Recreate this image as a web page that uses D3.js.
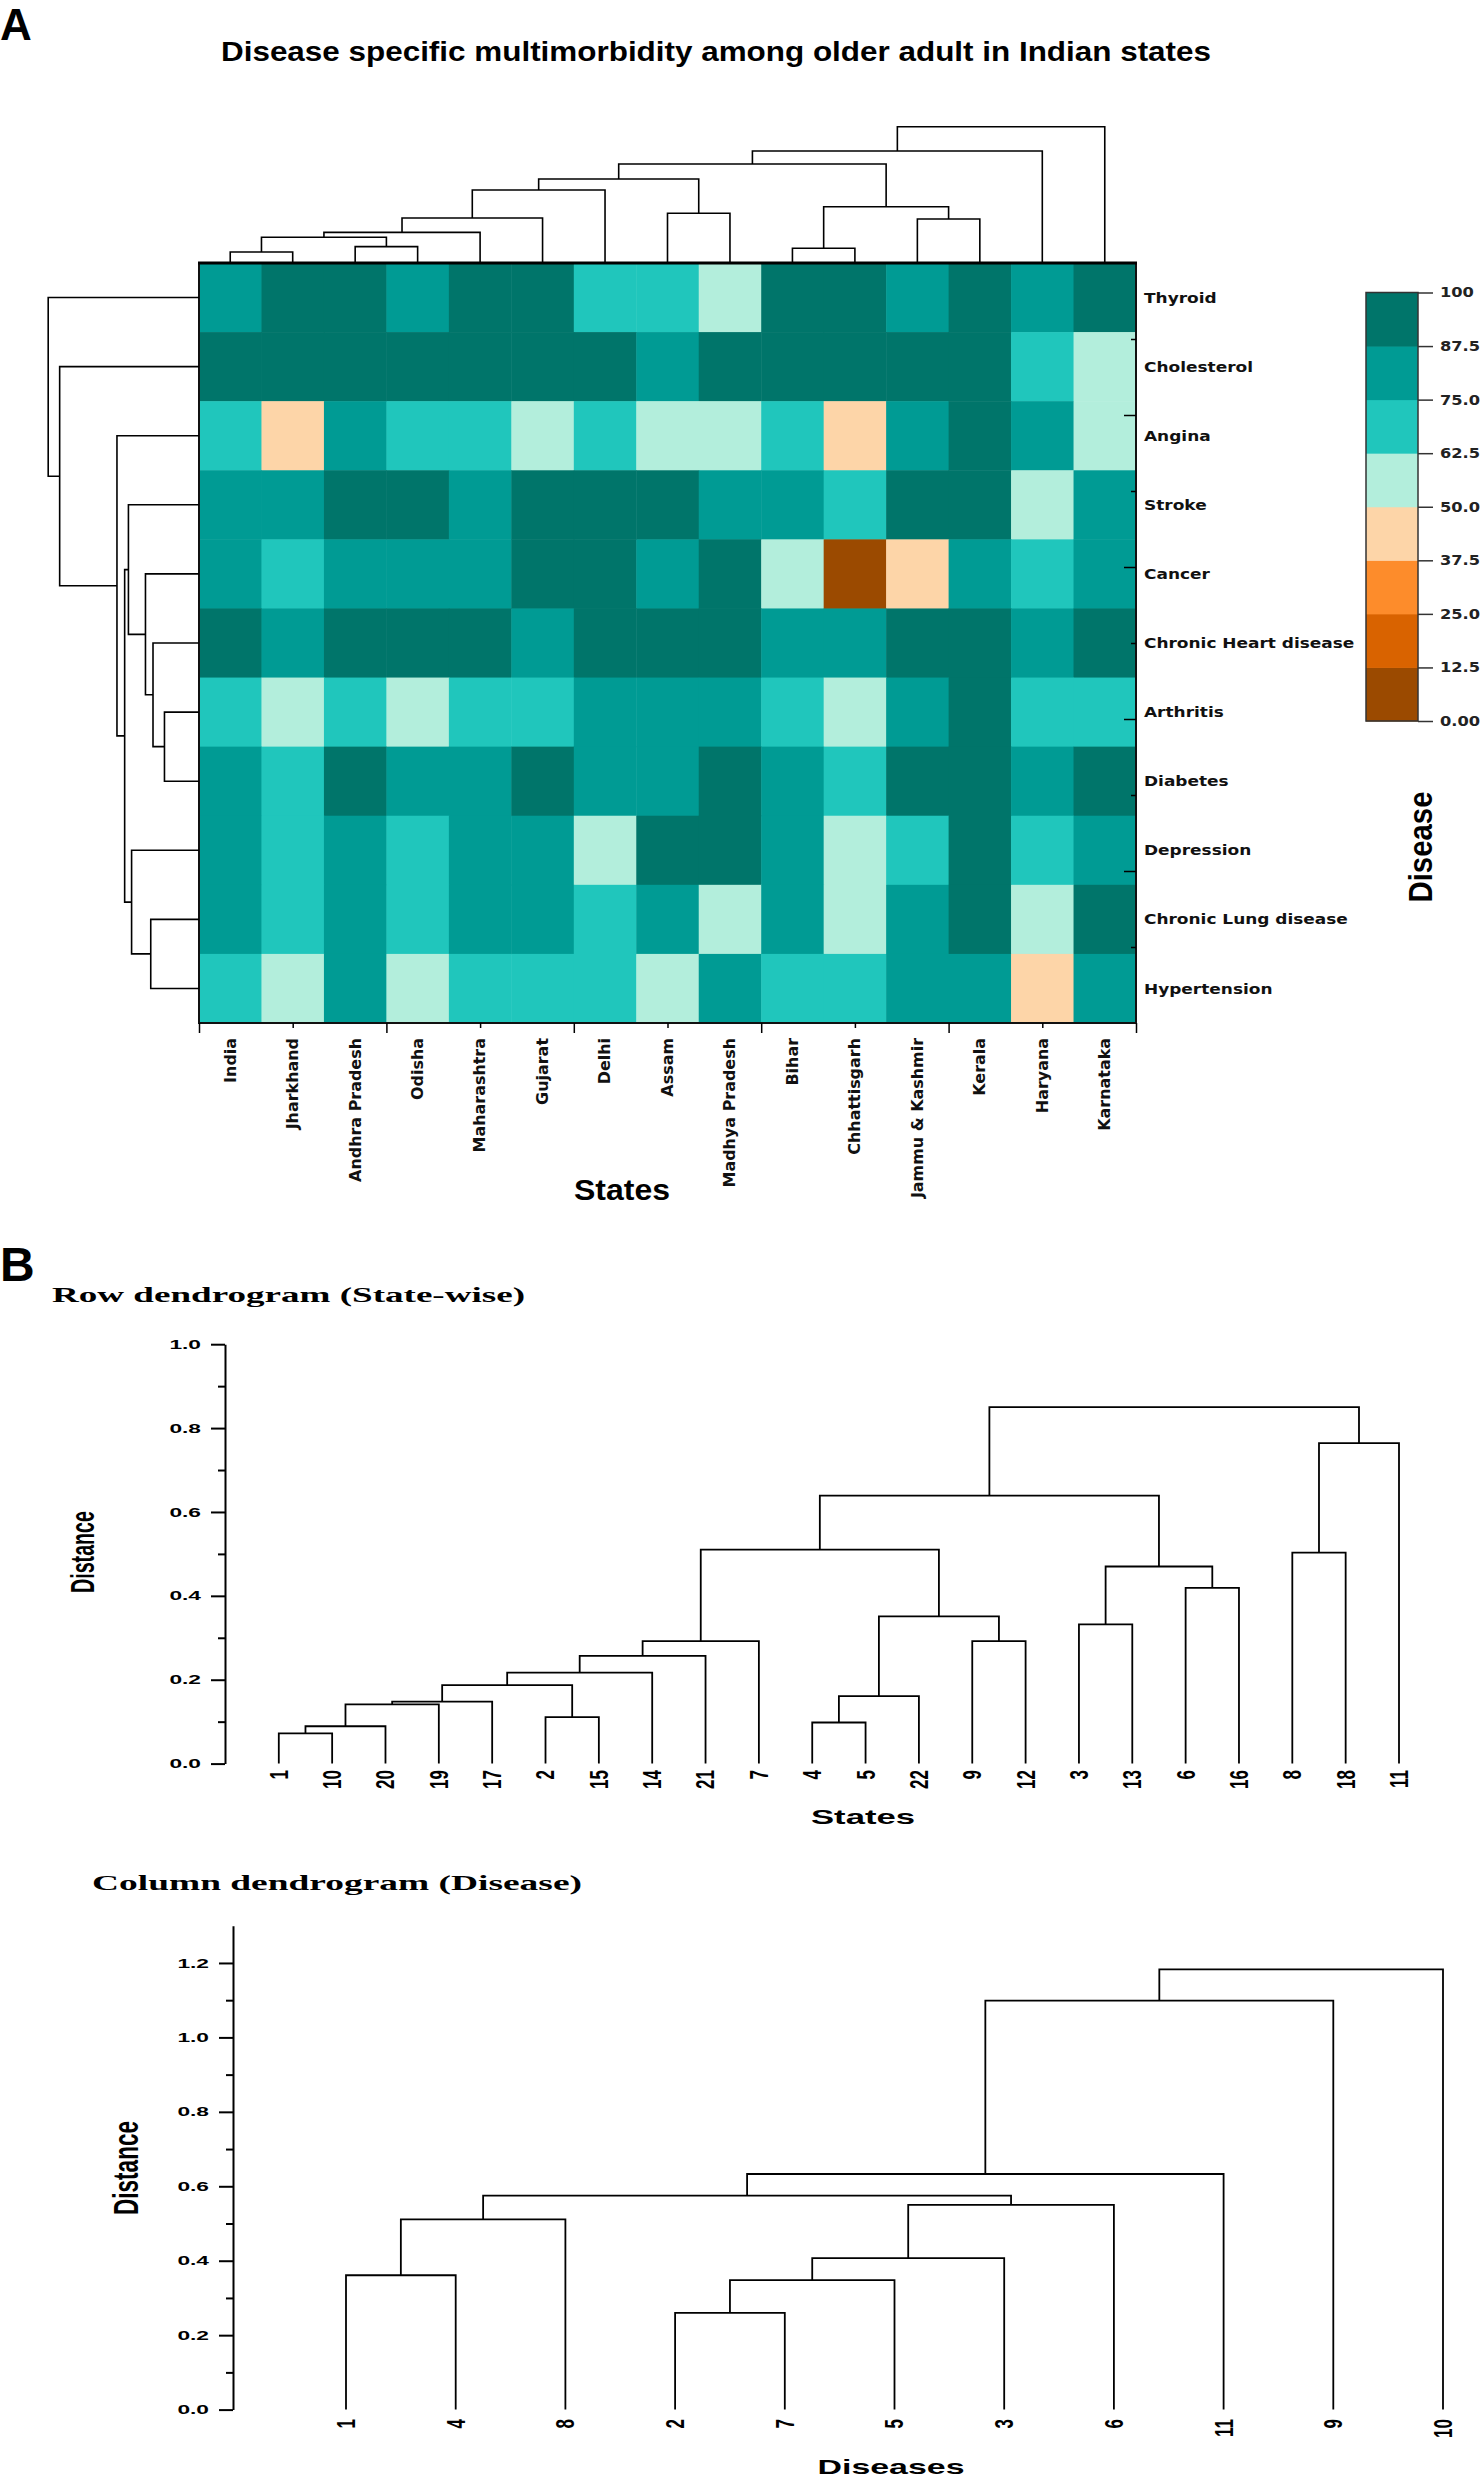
<!DOCTYPE html>
<html><head><meta charset="utf-8">
<script src="https://cdn.jsdelivr.net/npm/d3@7"></script>
<style>body{margin:0;background:#fff}svg{display:block}</style>
</head><body>
<script>
// ---------------- DATA ----------------
const states = ["India","Jharkhand","Andhra Pradesh","Odisha","Maharashtra","Gujarat","Delhi","Assam","Madhya Pradesh","Bihar","Chhattisgarh","Jammu & Kashmir","Kerala","Haryana","Karnataka"];
const diseases = ["Thyroid","Cholesterol","Angina","Stroke","Cancer","Chronic Heart disease","Arthritis","Diabetes","Depression","Chronic Lung disease","Hypertension"];
// values per disease, one per state (same order as states)
const thyroid      = [81,94,94,81,94,94,69,69,56,94,94,81,94,81,94];
const cholesterol  = [94,94,94,94,94,94,94,81,94,94,94,94,94,69,56];
const angina       = [69,44,81,69,69,56,69,56,56,69,44,81,94,81,56];
const stroke       = [81,81,94,94,81,94,94,94,81,81,69,94,94,56,81];
const cancer       = [81,69,81,81,81,94,94,81,94,56,6,44,81,69,81];
const heartDisease = [94,81,94,94,94,81,94,94,94,81,81,94,94,81,94];
const arthritis    = [69,56,69,56,69,69,81,81,81,69,56,81,94,69,69];
const diabetes     = [81,69,94,81,81,94,81,81,94,81,69,94,94,81,94];
const depression   = [81,69,81,69,81,81,56,94,94,81,56,69,94,69,81];
const lungDisease  = [81,69,81,69,81,81,69,81,56,81,56,81,94,56,94];
const hypertension = [69,56,81,56,69,69,69,56,81,69,69,81,81,44,81];

const legendBreaks = [12.5,25,37.5,50,62.5,75,87.5];
const legendTicks = [0,12.5,25,37.5,50,62.5,75,87.5,100];
const legendTickLabels = ["0.00","12.5","25.0","37.5","50.0","62.5","75.0","87.5","100"];
const binColors = ["#9B4A00","#D96300","#FD8C2B","#FDD5A8","#B3EEDC","#20C6BC","#009B94","#00756A"];

// linkage: [childA, childB, height]; leaves 0..n-1, merge k gets id n+k
const stateLinkage = [[0,1,0.081],[2,3,0.12],[15,16,0.189],[17,4,0.225],[18,5,0.33],[19,6,0.536],[7,8,0.365],[20,21,0.616],[9,10,0.108],[11,12,0.323],[23,24,0.413],[22,25,0.726],[26,13,0.822],[27,14,1.0]];
const diseaseLinkage = [[6,7,0.229],[5,11,0.305],[4,12,0.355],[3,13,0.468],[9,10,0.32],[8,15,0.447],[14,16,0.493],[2,17,0.544],[1,18,0.924],[0,19,1.0]];

// Panel B
const rowDendroLabels = ["1","2","3","4","5","6","7","8","9","10","11","12","13","14","15","16","17","18","19","20","21","22"];
const rowDendroLinkage = [[0,9,0.072],[22,19,0.089],[23,18,0.141],[24,16,0.148],[1,14,0.111],[25,26,0.187],[27,13,0.217],[28,20,0.257],[29,6,0.292],[3,4,0.098],[31,21,0.161],[8,11,0.292],[32,33,0.351],[30,34,0.51],[2,12,0.332],[5,15,0.419],[36,37,0.47],[35,38,0.639],[7,17,0.503],[40,10,0.764],[39,41,0.85]];
const rowAxisMajor = [0,0.2,0.4,0.6,0.8,1.0];
const rowAxisMinor = [0.1,0.3,0.5,0.7,0.9];

const colDendroLabels = ["1","2","3","4","5","6","7","8","9","10","11"];
const colDendroLinkage = [[0,3,0.361],[11,7,0.511],[1,6,0.26],[13,4,0.348],[14,2,0.407],[15,5,0.55],[12,16,0.575],[17,10,0.633],[18,8,1.099],[19,9,1.183]];
const colAxisMajor = [0,0.2,0.4,0.6,0.8,1.0,1.2];
const colAxisMinor = [0.1,0.3,0.5,0.7,0.9,1.1];

// ---------------- DRAW ----------------
const W = 1483, H = 2480;
const svg = d3.select("body").append("svg").attr("width", W).attr("height", H);
const SANS = "'Liberation Sans', Arial, sans-serif";
const WIDE = "'DejaVu Sans', Verdana, sans-serif";
const SERIF = "'Liberation Serif', 'Times New Roman', serif";

function leafOrder(linkage, n) {
  const rec = id => id < n ? [id] : rec(linkage[id-n][0]).concat(rec(linkage[id-n][1]));
  return rec(n + linkage.length - 1);
}
function drawDendro(g, linkage, n, posOf, hScale, orient, sw) {
  const pos = [], h = [];
  for (let i = 0; i < n; i++) { pos[i] = posOf(i); h[i] = 0; }
  linkage.forEach(([a,b,d],k) => { pos[n+k] = (pos[a]+pos[b])/2; h[n+k] = d; });
  linkage.forEach(([a,b,d]) => {
    let pts = [[pos[a],h[a]],[pos[a],d],[pos[b],d],[pos[b],h[b]]];
    pts = pts.map(([p,v]) => orient === "v" ? [p, hScale(v)] : [hScale(v), p]);
    g.append("path").attr("d", d3.line()(pts)).attr("fill","none")
      .attr("stroke","#000").attr("stroke-width", sw).attr("stroke-linejoin","miter");
  });
}

// Panel labels
svg.append("text").attr("x",0).attr("y",40).attr("font-family",SANS).attr("font-weight","bold")
  .attr("font-size",44).text("A");
svg.append("text").attr("x",0).attr("y",1281).attr("font-family",SANS).attr("font-weight","bold")
  .attr("font-size",48).text("B");

// Title A
svg.append("text").attr("x",221).attr("y",61).attr("font-family",SANS).attr("font-weight","bold")
  .attr("font-size",28).attr("textLength",990).attr("lengthAdjust","spacingAndGlyphs")
  .text("Disease specific multimorbidity among older adult in Indian states");

// Heatmap
const hmL = 199, hmR = 1136, hmT = 263, hmB = 1023;
const x = d3.scaleBand().domain(states).range([hmL, hmR]);
const y = d3.scaleBand().domain(diseases).range([hmT, hmB]);
const color = d3.scaleThreshold().domain(legendBreaks).range(binColors);
const matrix = [thyroid,cholesterol,angina,stroke,cancer,heartDisease,arthritis,diabetes,depression,lungDisease,hypertension];
const cells = [];
matrix.forEach((row,i) => row.forEach((v,j) => cells.push({d:diseases[i], s:states[j], v})));
const gA = svg.append("g");
gA.selectAll("rect.cell").data(cells).join("rect").attr("class","cell")
  .attr("x", d => x(d.s)).attr("y", d => y(d.d))
  .attr("width", x.bandwidth()+0.5).attr("height", y.bandwidth()+0.5)
  .attr("fill", d => color(d.v));
gA.append("rect").attr("x",hmL).attr("y",hmT).attr("width",hmR-hmL).attr("height",hmB-hmT)
  .attr("fill","none").attr("stroke","#111").attr("stroke-width",2);
gA.append("line").attr("x1",hmL-1).attr("x2",hmR+1).attr("y1",hmT).attr("y2",hmT).attr("stroke","#000").attr("stroke-width",3);

// bottom ticks
const xt = d3.scaleLinear().domain([0,15]).range([hmL,hmR]);
gA.append("g").attr("transform",`translate(0,${hmB})`)
  .call(d3.axisBottom(xt).tickValues([0,3,6,9,12,15]).tickSize(10).tickFormat(""))
  .call(g => g.select(".domain").remove()).selectAll("line").attr("stroke-width",1.5);
gA.append("g").attr("transform",`translate(0,${hmB})`)
  .call(d3.axisBottom(xt).tickValues([1.5,4.5,7.5,10.5,13.5]).tickSize(5).tickFormat(""))
  .call(g => g.select(".domain").remove()).selectAll("line").attr("stroke-width",1.5);
// right ticks (inward)
const yt = d3.scaleLinear().domain([0,10]).range([hmT,hmB]);
gA.append("g").attr("transform",`translate(${hmR},0)`)
  .call(d3.axisLeft(yt).tickValues([2,4,6,8]).tickSize(12).tickFormat(""))
  .call(g => g.select(".domain").remove()).selectAll("line").attr("stroke-width",1.5);
gA.append("g").attr("transform",`translate(${hmR},0)`)
  .call(d3.axisLeft(yt).tickValues([1,3,5,7,9]).tickSize(5).tickFormat(""))
  .call(g => g.select(".domain").remove()).selectAll("line").attr("stroke-width",1.5);

// row labels
gA.selectAll("text.rl").data(diseases).join("text").attr("class","rl")
  .attr("transform", d => `translate(1144,${y(d)+y.bandwidth()/2}) scale(1.17,1)`)
  .attr("dy","0.35em").attr("font-family",WIDE).attr("font-weight","bold").attr("font-size",14.5)
  .attr("fill","#111").text(d => d);
// column labels
gA.selectAll("text.cl").data(states).join("text").attr("class","cl")
  .attr("transform", d => `translate(${x(d)+x.bandwidth()/2},1038) rotate(-90) scale(1.1,1.05)`)
  .attr("dy","0.35em").attr("text-anchor","end").attr("font-family",WIDE).attr("font-weight","bold")
  .attr("font-size",14.5).attr("fill","#111").text(d => d);
gA.append("text").attr("x",574).attr("y",1200).attr("font-family",SANS).attr("font-weight","bold")
  .attr("font-size",30).attr("textLength",96).attr("lengthAdjust","spacingAndGlyphs").text("States");

// dendrograms on heatmap
const topH = d3.scaleLinear().domain([0,1]).range([hmT, hmT-136.3]);
drawDendro(gA.append("g"), stateLinkage, states.length, i => x(states[i])+x.bandwidth()/2, topH, "v", 1.6);
const leftH = d3.scaleLinear().domain([0,1]).range([hmL, hmL-150.8]);
drawDendro(gA.append("g"), diseaseLinkage, diseases.length, i => y(diseases[i])+y.bandwidth()/2, leftH, "h", 1.6);

// legend
const lg = svg.append("g");
const ly = d3.scaleLinear().domain([0,100]).range([721, 292.5]);
const lx0 = 1366, lx1 = 1418;
const bins = d3.range(8).map(i => ({lo: i*12.5, hi: (i+1)*12.5, c: binColors[i]}));
lg.selectAll("rect.bin").data(bins).join("rect").attr("class","bin")
  .attr("x",lx0).attr("width",lx1-lx0).attr("y", d => ly(d.hi)).attr("height", d => ly(d.lo)-ly(d.hi)+0.5)
  .attr("fill", d => d.c);
lg.append("rect").attr("x",lx0).attr("y",ly(100)).attr("width",lx1-lx0).attr("height",ly(0)-ly(100))
  .attr("fill","none").attr("stroke","#333").attr("stroke-width",1.5);
lg.append("g").attr("transform",`translate(${lx1},0)`)
  .call(d3.axisRight(ly).tickValues(legendTicks).tickSize(15).tickFormat(""))
  .call(g => g.select(".domain").remove()).selectAll("line").attr("stroke","#333").attr("stroke-width",1.5);
lg.selectAll("text.lt").data(legendTicks).join("text").attr("class","lt")
  .attr("transform",(d,i) => `translate(1440,${ly(d)}) scale(1.16,1)`).attr("dy","0.35em")
  .attr("font-family",WIDE).attr("font-weight","bold").attr("font-size",14).attr("fill","#222")
  .text((d,i) => legendTickLabels[i]);
lg.append("text").attr("transform","translate(1420,847) rotate(-90) scale(1,1.15)").attr("dy","0.35em")
  .attr("text-anchor","middle").attr("font-family",SANS).attr("font-weight","bold").attr("font-size",29)
  .attr("textLength",111).attr("lengthAdjust","spacingAndGlyphs").text("Disease");

// ---------------- Panel B ----------------
function panelB(opt) {
  const g = svg.append("g");
  const order = leafOrder(opt.linkage, opt.labels.length);
  const xp = d3.scalePoint().domain(order.map(i => opt.labels[i])).range(opt.xr);
  const yv = d3.scaleLinear().domain([0, opt.top]).range([opt.y0, opt.y0 - opt.top*opt.unit]);
  // axis
  g.append("g").attr("transform",`translate(${opt.ax},0)`)
    .call(d3.axisLeft(yv).tickValues(opt.major).tickSize(14).tickFormat("").tickSizeOuter(0))
    .call(a => a.select(".domain").attr("stroke-width",2)).selectAll("line").attr("stroke-width",2);
  g.append("g").attr("transform",`translate(${opt.ax},0)`)
    .call(d3.axisLeft(yv).tickValues(opt.minor).tickSize(7).tickFormat(""))
    .call(a => a.select(".domain").remove()).selectAll("line").attr("stroke-width",2);
  g.selectAll("text.yl").data(opt.major).join("text").attr("class","yl")
    .attr("transform", d => `translate(${opt.ax-24},${yv(d)}) scale(1.75,1)`).attr("dy","0.35em")
    .attr("text-anchor","end").attr("font-family",SANS).attr("font-weight","bold").attr("font-size",13)
    .text(d3.format(".1f"));
  drawDendro(g, opt.linkage, opt.labels.length, i => xp(opt.labels[i]), yv, "v", 1.8);
  g.selectAll("text.leaf").data(order).join("text").attr("class","leaf")
    .attr("transform", i => `translate(${xp(opt.labels[i])},${opt.leafY}) rotate(-90) scale(1,1.5)`)
    .attr("dy","0.35em").attr("text-anchor","end").attr("font-family",SANS).attr("font-weight","bold")
    .attr("font-size",opt.leafF).text(i => opt.labels[i]);
  // titles
  g.append("text").attr("x",opt.titleX).attr("y",opt.titleY).attr("font-family",SERIF).attr("font-weight","bold")
    .attr("font-size",21).attr("textLength",opt.titleW).attr("lengthAdjust","spacingAndGlyphs").text(opt.title);
  g.append("text").attr("transform",`translate(${opt.ylabX},${opt.ylabY}) rotate(-90) scale(1,${opt.ylabS})`)
    .attr("dy","0.35em").attr("text-anchor","middle").attr("font-family",SANS).attr("font-weight","bold")
    .attr("font-size",opt.ylabF).attr("textLength",opt.ylabL).attr("lengthAdjust","spacingAndGlyphs").text("Distance");
  g.append("text").attr("x",opt.xlabX).attr("y",opt.xlabY).attr("text-anchor","middle").attr("font-family",SANS)
    .attr("font-weight","bold").attr("font-size",opt.xlabF).attr("textLength",opt.xlabW)
    .attr("lengthAdjust","spacingAndGlyphs").text(opt.xlab);
}
panelB({linkage: rowDendroLinkage, labels: rowDendroLabels, xr:[278.8,1399], top:1.0, unit:419.4, y0:1763.6,
  ax:225, major: rowAxisMajor, minor: rowAxisMinor, leafY:1770, leafF:17,
  title:"Row dendrogram (State-wise)", titleX:52, titleY:1302, titleW:473,
  ylabX:82, ylabY:1552, ylabS:1.7, ylabF:20, ylabL:82, xlab:"States", xlabX:863, xlabY:1824, xlabF:21, xlabW:104});
panelB({linkage: colDendroLinkage, labels: colDendroLabels, xr:[346,1443], top:1.3, unit:372.2, y0:2409.6,
  ax:233, major: colAxisMajor, minor: colAxisMinor, leafY:2419, leafF:17,
  title:"Column dendrogram (Disease)", titleX:92, titleY:1890, titleW:490,
  ylabX:126, ylabY:2168, ylabS:1.55, ylabF:22.5, ylabL:94, xlab:"Diseases", xlabX:891, xlabY:2474, xlabF:21, xlabW:147});
</script>
</body></html>
